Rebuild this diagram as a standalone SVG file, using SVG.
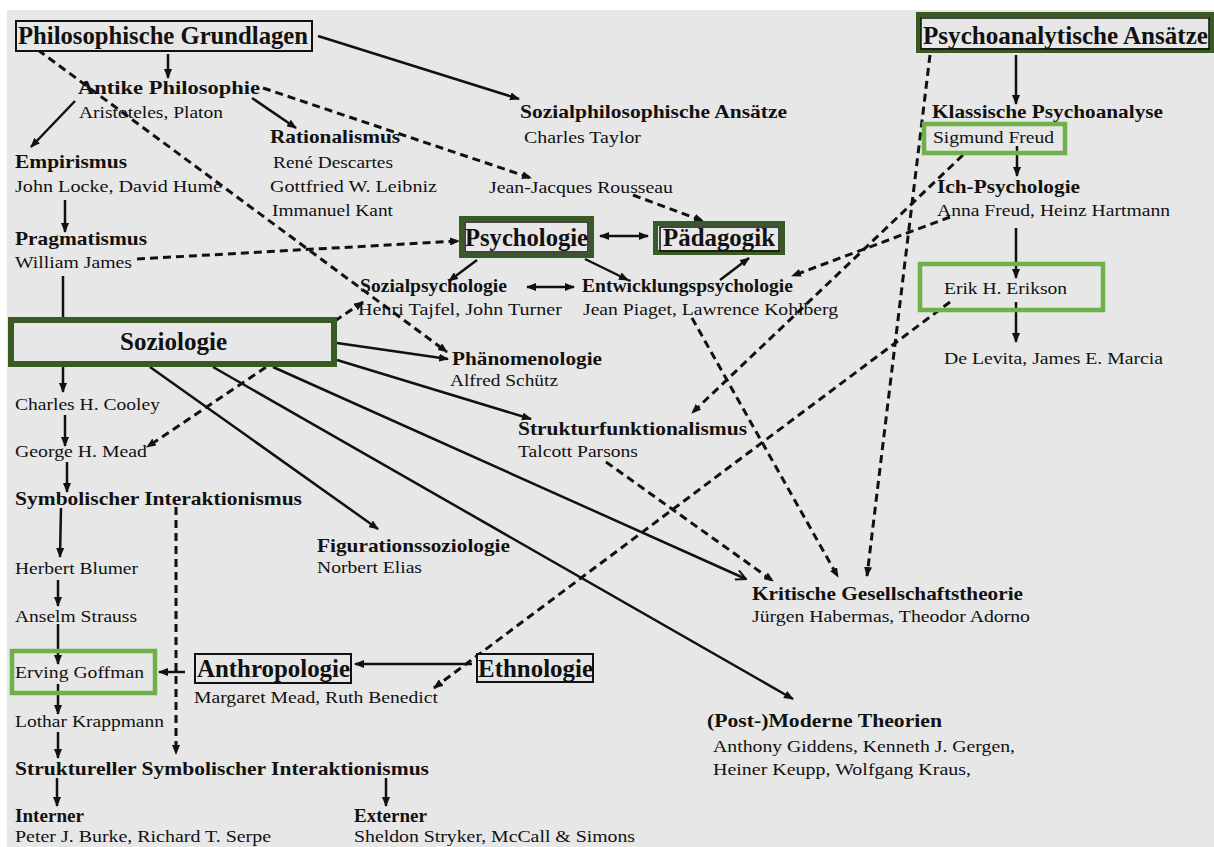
<svg xmlns="http://www.w3.org/2000/svg" width="1214" height="847" viewBox="0 0 1214 847">
  <defs>
    <marker id="ah" viewBox="0 0 10 8" refX="9" refY="4" markerWidth="10" markerHeight="8" markerUnits="userSpaceOnUse" orient="auto-start-reverse">
      <path d="M0,0 L10,4 L0,8 z" fill="#111"/>
    </marker>
    <marker id="open" viewBox="0 0 12 12" refX="11" refY="6" markerWidth="12" markerHeight="12" markerUnits="userSpaceOnUse" orient="auto">
      <path d="M1,1 L11,6 L1,11" fill="none" stroke="#111" stroke-width="2"/>
    </marker>
    <style>
      .bg { fill: #e7e7e7; }
      .ln { stroke: #111; stroke-width: 2.5; fill: none; }
      .dl { stroke: #111; stroke-width: 3; fill: none; stroke-dasharray: 8 5; }
      .arr { marker-end: url(#ah); }
      .dbl { marker-start: url(#ah); marker-end: url(#ah); }
      .t { font-family: "Liberation Serif", "Times New Roman", serif; fill: #111; }
      .big { font-size: 25px; font-weight: bold; }
      .sub { font-size: 19.5px; font-weight: bold; }
      .reg { font-size: 17.5px; }
      .dark { fill: #e7e7e7; stroke: #3a5a24; stroke-width: 5; }
      .soz { fill: #e7e7e7; stroke: #3a5a24; stroke-width: 6; }
      .light { fill: none; stroke: #6fb04a; stroke-width: 4.5; }
      .blk { fill: #e7e7e7; stroke: #111; stroke-width: 2; }
      .inner { fill: none; stroke: #111; stroke-width: 1.5; }
    </style>
  </defs>

  <rect width="1214" height="847" fill="#ffffff"/>
  <rect class="bg" x="7" y="10" width="1207" height="837"/>

  <g id="connectors">
    <!-- solid arrows -->
    <line class="ln arr" x1="318" y1="36" x2="519" y2="99"/>
    <line class="ln arr" x1="168" y1="54" x2="168" y2="78"/>
    <line class="ln arr" x1="75" y1="101" x2="31" y2="147"/>
    <line class="ln arr" x1="252" y1="98" x2="296" y2="128"/>
    <line class="ln arr" x1="65" y1="200" x2="65" y2="232"/>
    <line class="ln dbl" x1="600" y1="236" x2="648" y2="236"/>
    <line class="ln arr" x1="477" y1="260" x2="449" y2="281"/>
    <line class="ln arr" x1="585" y1="259" x2="628" y2="280"/>
    <line class="ln dbl" x1="527" y1="287" x2="574" y2="287"/>
    <line class="ln arr" x1="720" y1="280" x2="749" y2="258"/>
    <line class="ln" x1="63" y1="276" x2="63" y2="318"/>
    <line class="ln arr" x1="63" y1="367" x2="63" y2="392"/>
    <line class="ln arr" x1="65" y1="415" x2="65" y2="446"/>
    <line class="ln arr" x1="67" y1="462" x2="67" y2="492"/>
    <line class="ln arr" x1="61" y1="508" x2="60" y2="557"/>
    <line class="ln arr" x1="58" y1="580" x2="58" y2="606"/>
    <line class="ln arr" x1="58" y1="624" x2="58" y2="664"/>
    <line class="ln arr" x1="58" y1="684" x2="58" y2="714"/>
    <line class="ln arr" x1="58" y1="732" x2="58" y2="758"/>
    <line class="ln arr" x1="57" y1="778" x2="57" y2="806"/>
    <line class="ln arr" x1="386" y1="778" x2="386" y2="806"/>
    <line class="ln arr" x1="185" y1="672" x2="159" y2="672"/>
    <line class="ln arr" x1="472" y1="664" x2="355" y2="664"/>
    <line class="ln arr" x1="337" y1="343" x2="448" y2="359"/>
    <line class="ln arr" x1="337" y1="360" x2="531" y2="419"/>
    <line class="ln" x1="273" y1="367" x2="746" y2="579" marker-end="url(#open)"/>
    <line class="ln arr" x1="213" y1="367" x2="793" y2="699"/>
    <line class="ln arr" x1="150" y1="367" x2="378" y2="529"/>
    <line class="ln arr" x1="1016" y1="55" x2="1016" y2="104"/>
    <line class="ln arr" x1="1017" y1="146" x2="1017" y2="176"/>
    <line class="ln arr" x1="1016" y1="228" x2="1016" y2="278"/>
    <line class="ln arr" x1="1016" y1="302" x2="1016" y2="342"/>

    <!-- dashed arrows -->
    <line class="dl arr" x1="38" y1="50" x2="447" y2="352"/>
    <line class="dl arr" x1="263" y1="88" x2="531" y2="178"/>
    <line class="dl arr" x1="633" y1="195" x2="703" y2="221"/>
    <line class="dl arr" x1="137" y1="259" x2="459" y2="241"/>
    <line class="dl dbl" x1="363" y1="302" x2="147" y2="447"/>
    <line class="dl arr" x1="176" y1="507" x2="176" y2="754"/>
    <line class="dl arr" x1="606" y1="462" x2="773" y2="581"/>
    <line class="dl arr" x1="692" y1="318" x2="838" y2="577"/>
    <line class="dl arr" x1="930" y1="55" x2="867" y2="576"/>
    <line class="dl arr" x1="963" y1="155" x2="692" y2="413"/>
    <line class="dl arr" x1="950" y1="217" x2="792" y2="276"/>
    <line class="dl arr" x1="950" y1="302" x2="434" y2="688"/>
  </g>

  <g id="philosophische-grundlagen">
    <rect class="blk" x="16" y="21" width="296" height="30"/>
    <text class="t big" x="18" y="44" textLength="290" lengthAdjust="spacingAndGlyphs">Philosophische Grundlagen</text>
  </g>
  <g id="antike-philosophie">
    <text class="t sub" x="78" y="94" textLength="182" lengthAdjust="spacingAndGlyphs">Antike Philosophie</text>
    <text class="t reg" x="79" y="118" textLength="144" lengthAdjust="spacingAndGlyphs">Aristoteles, Platon</text>
  </g>
  <g id="rationalismus">
    <text class="t sub" x="270" y="143" textLength="130" lengthAdjust="spacingAndGlyphs">Rationalismus</text>
    <text class="t reg" x="273" y="168" textLength="120" lengthAdjust="spacingAndGlyphs">René Descartes</text>
    <text class="t reg" x="270" y="192" textLength="167" lengthAdjust="spacingAndGlyphs">Gottfried W. Leibniz</text>
    <text class="t reg" x="272" y="216" textLength="121" lengthAdjust="spacingAndGlyphs">Immanuel Kant</text>
  </g>
  <g id="empirismus">
    <text class="t sub" x="15" y="168" textLength="112" lengthAdjust="spacingAndGlyphs">Empirismus</text>
    <text class="t reg" x="15" y="192" textLength="207" lengthAdjust="spacingAndGlyphs">John Locke, David Hume</text>
  </g>
  <g id="pragmatismus">
    <text class="t sub" x="15" y="245" textLength="132" lengthAdjust="spacingAndGlyphs">Pragmatismus</text>
    <text class="t reg" x="15" y="268" textLength="117" lengthAdjust="spacingAndGlyphs">William James</text>
  </g>
  <g id="sozialphilosophie">
    <text class="t sub" x="520" y="118" textLength="267" lengthAdjust="spacingAndGlyphs">Sozialphilosophische Ansätze</text>
    <text class="t reg" x="524" y="143" textLength="117" lengthAdjust="spacingAndGlyphs">Charles Taylor</text>
  </g>
  <g id="rousseau">
    <text class="t reg" x="489" y="193" textLength="184" lengthAdjust="spacingAndGlyphs">Jean-Jacques Rousseau</text>
  </g>
  <g id="psychologie">
    <rect class="dark" x="461.5" y="218.5" width="130" height="37"/>
    <rect class="inner" x="465" y="222" width="123" height="30"/>
    <text class="t big" x="465" y="246" textLength="123" lengthAdjust="spacingAndGlyphs">Psychologie</text>
  </g>
  <g id="paedagogik">
    <rect class="dark" x="655.5" y="223.5" width="127" height="29"/>
    <rect class="inner" x="660" y="227" width="119" height="24"/>
    <text class="t big" x="663" y="246" textLength="112" lengthAdjust="spacingAndGlyphs">Pädagogik</text>
  </g>
  <g id="sozialpsychologie">
    <text class="t sub" x="360" y="292" textLength="147" lengthAdjust="spacingAndGlyphs">Sozialpsychologie</text>
    <text class="t reg" x="358" y="315" textLength="204" lengthAdjust="spacingAndGlyphs">Henri Tajfel, John Turner</text>
  </g>
  <g id="entwicklungspsychologie">
    <text class="t sub" x="582" y="292" textLength="211" lengthAdjust="spacingAndGlyphs">Entwicklungspsychologie</text>
    <text class="t reg" x="583" y="315" textLength="255" lengthAdjust="spacingAndGlyphs">Jean Piaget, Lawrence Kohlberg</text>
  </g>
  <g id="soziologie">
    <rect class="soz" x="11" y="320" width="323" height="44"/>
    <text class="t big" x="120" y="350" textLength="107" lengthAdjust="spacingAndGlyphs">Soziologie</text>
  </g>
  <g id="phaenomenologie">
    <text class="t sub" x="452" y="365" textLength="150" lengthAdjust="spacingAndGlyphs">Phänomenologie</text>
    <text class="t reg" x="450" y="386" textLength="108" lengthAdjust="spacingAndGlyphs">Alfred Schütz</text>
  </g>
  <g id="strukturfunktionalismus">
    <text class="t sub" x="518" y="435" textLength="229" lengthAdjust="spacingAndGlyphs">Strukturfunktionalismus</text>
    <text class="t reg" x="518" y="457" textLength="120" lengthAdjust="spacingAndGlyphs">Talcott Parsons</text>
  </g>
  <g id="cooley">
    <text class="t reg" x="15" y="410" textLength="145" lengthAdjust="spacingAndGlyphs">Charles H. Cooley</text>
  </g>
  <g id="mead">
    <text class="t reg" x="15" y="457" textLength="132" lengthAdjust="spacingAndGlyphs">George H. Mead</text>
  </g>
  <g id="symbolischer-interaktionismus">
    <text class="t sub" x="15" y="505" textLength="287" lengthAdjust="spacingAndGlyphs">Symbolischer Interaktionismus</text>
  </g>
  <g id="figurationssoziologie">
    <text class="t sub" x="317" y="552" textLength="193" lengthAdjust="spacingAndGlyphs">Figurationssoziologie</text>
    <text class="t reg" x="317" y="573" textLength="105" lengthAdjust="spacingAndGlyphs">Norbert Elias</text>
  </g>
  <g id="blumer">
    <text class="t reg" x="15" y="574" textLength="123" lengthAdjust="spacingAndGlyphs">Herbert Blumer</text>
  </g>
  <g id="strauss">
    <text class="t reg" x="15" y="622" textLength="122" lengthAdjust="spacingAndGlyphs">Anselm Strauss</text>
  </g>
  <g id="goffman">
    <rect class="light" x="12" y="651" width="143" height="42"/>
    <text class="t reg" x="15" y="678" textLength="129" lengthAdjust="spacingAndGlyphs">Erving Goffman</text>
  </g>
  <g id="krappmann">
    <text class="t reg" x="15" y="727" textLength="149" lengthAdjust="spacingAndGlyphs">Lothar Krappmann</text>
  </g>
  <g id="struktureller-si">
    <text class="t sub" x="15" y="775" textLength="414" lengthAdjust="spacingAndGlyphs">Struktureller Symbolischer Interaktionismus</text>
  </g>
  <g id="interner">
    <text class="t sub" x="15" y="822" textLength="69" lengthAdjust="spacingAndGlyphs">Interner</text>
    <text class="t reg" x="15" y="842" textLength="256" lengthAdjust="spacingAndGlyphs">Peter J. Burke, Richard T. Serpe</text>
  </g>
  <g id="externer">
    <text class="t sub" x="354" y="822" textLength="73" lengthAdjust="spacingAndGlyphs">Externer</text>
    <text class="t reg" x="354" y="842" textLength="281" lengthAdjust="spacingAndGlyphs">Sheldon Stryker, McCall &amp; Simons</text>
  </g>
  <g id="anthropologie">
    <rect class="blk" x="195" y="654" width="156" height="29"/>
    <text class="t big" x="197" y="677" textLength="153" lengthAdjust="spacingAndGlyphs">Anthropologie</text>
    <text class="t reg" x="194" y="703" textLength="244" lengthAdjust="spacingAndGlyphs">Margaret Mead, Ruth Benedict</text>
  </g>
  <g id="ethnologie">
    <rect class="blk" x="477" y="654" width="116" height="28"/>
    <text class="t big" x="478" y="677" textLength="115" lengthAdjust="spacingAndGlyphs">Ethnologie</text>
  </g>
  <g id="kritische-gesellschaftstheorie">
    <text class="t sub" x="752" y="600" textLength="271" lengthAdjust="spacingAndGlyphs">Kritische Gesellschaftstheorie</text>
    <text class="t reg" x="752" y="622" textLength="278" lengthAdjust="spacingAndGlyphs">Jürgen Habermas, Theodor Adorno</text>
  </g>
  <g id="moderne-theorien">
    <text class="t sub" x="707" y="727" textLength="235" lengthAdjust="spacingAndGlyphs">(Post-)Moderne Theorien</text>
    <text class="t reg" x="713" y="752" textLength="302" lengthAdjust="spacingAndGlyphs">Anthony Giddens, Kenneth J. Gergen,</text>
    <text class="t reg" x="713" y="775" textLength="258" lengthAdjust="spacingAndGlyphs">Heiner Keupp, Wolfgang Kraus,</text>
  </g>
  <g id="psychoanalytische-ansaetze">
    <rect class="dark" x="918.5" y="14.5" width="293" height="36"/>
    <rect class="inner" x="921" y="18" width="288" height="31"/>
    <text class="t big" x="923" y="44" textLength="285" lengthAdjust="spacingAndGlyphs">Psychoanalytische Ansätze</text>
  </g>
  <g id="klassische-psychoanalyse">
    <text class="t sub" x="932" y="118" textLength="231" lengthAdjust="spacingAndGlyphs">Klassische Psychoanalyse</text>
  </g>
  <g id="freud">
    <rect class="light" x="924" y="124" width="141" height="29"/>
    <text class="t reg" x="933" y="143" textLength="121" lengthAdjust="spacingAndGlyphs">Sigmund Freud</text>
  </g>
  <g id="ich-psychologie">
    <text class="t sub" x="937" y="193" textLength="143" lengthAdjust="spacingAndGlyphs">Ich-Psychologie</text>
    <text class="t reg" x="937" y="216" textLength="233" lengthAdjust="spacingAndGlyphs">Anna Freud, Heinz Hartmann</text>
  </g>
  <g id="erikson">
    <rect class="light" x="920" y="264" width="183" height="46"/>
    <text class="t reg" x="944" y="294" textLength="123" lengthAdjust="spacingAndGlyphs">Erik H. Erikson</text>
  </g>
  <g id="de-levita">
    <text class="t reg" x="944" y="364" textLength="219" lengthAdjust="spacingAndGlyphs">De Levita, James E. Marcia</text>
  </g>
</svg>
